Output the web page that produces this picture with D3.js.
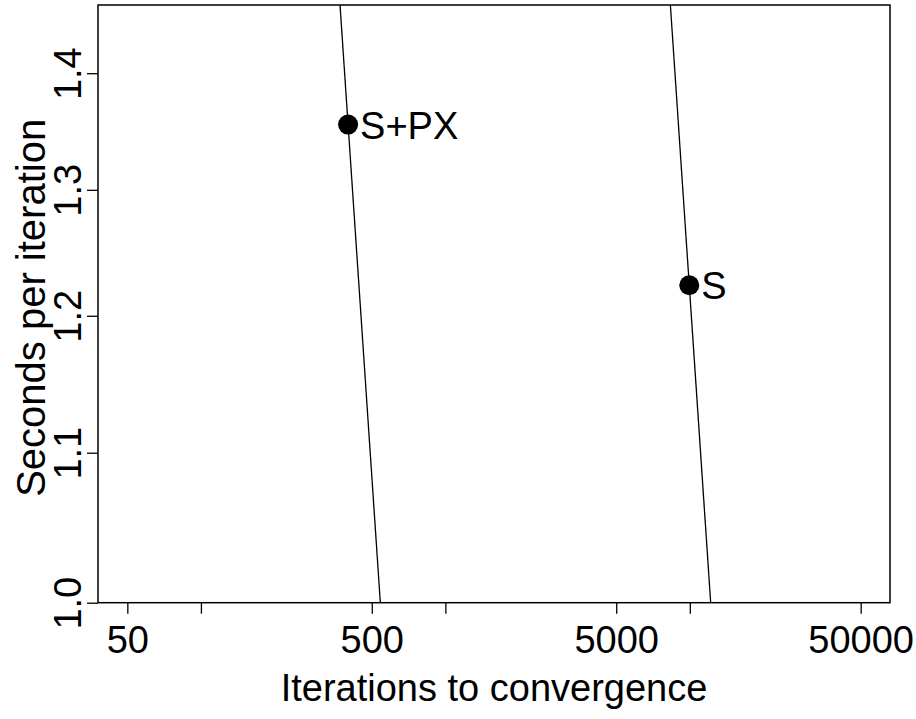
<!DOCTYPE html>
<html><head><meta charset="utf-8">
<script src="https://cdn.jsdelivr.net/npm/d3@7"></script>
<style>body{margin:0;background:#fff}svg{display:block}text{font-family:"Liberation Sans",Arial,sans-serif;fill:#000}</style>
</head><body>
<script>
const labels = ["S+PX", "S"];
const iterations = [400, 9950];
const secondsPerIter = [1.355, 1.2235];
const xTicks = [50, 100, 500, 1000, 5000, 10000, 50000];
const xTickLabels = ["50", "", "500", "", "5000", "", "50000"];
const yTicks = [1.0, 1.1, 1.2, 1.3, 1.4];
const yTickLabels = ["1.0", "1.1", "1.2", "1.3", "1.4"];
const xLim = [50, 50000];
const yLim = [1.0, 1.462];

const W = 916, H = 719;
const m = {left: 98, right: 890, top: 5, bottom: 602.7};
const FS = 38;
const svg = d3.select("body").append("svg").attr("width", W).attr("height", H);

const pad = Math.pow(xLim[1] / xLim[0], 0.04);
const x = d3.scaleLog().domain([xLim[0] / pad, xLim[1] * pad]).range([m.left, m.right]);
const y = d3.scaleLog().domain(yLim).range([m.bottom, m.top]);

// iso-cost lines through each point (iterations * seconds = const)
const line = d3.line().x(d => x(d[0])).y(d => y(d[1]));
iterations.forEach((it, i) => {
  const c = it * secondsPerIter[i];
  const pts = yLim.map(v => [c / v, v]);
  svg.append("path").attr("d", line(pts)).attr("fill", "none").attr("stroke", "#000").attr("stroke-width", 1.3);
});

// box
svg.append("rect").attr("x", m.left).attr("y", m.top).attr("width", m.right - m.left).attr("height", m.bottom - m.top)
  .attr("fill", "none").attr("stroke", "#000").attr("stroke-width", 1.5);

// x axis
const xa = svg.append("g").attr("transform", `translate(0,${m.bottom})`)
  .call(d3.axisBottom(x).tickValues(xTicks).tickFormat((d, i) => xTickLabels[i]).tickSize(11).tickPadding(12));
xa.select(".domain").remove();
xa.selectAll("line").attr("stroke", "#000").attr("stroke-width", 1.3);
xa.selectAll("text").attr("font-size", FS).attr("font-family", "Liberation Sans, Arial, sans-serif").attr("fill", "#000");

// y axis
const ya = svg.append("g").attr("transform", `translate(${m.left},0)`)
  .call(d3.axisLeft(y).tickValues(yTicks).tickFormat((d, i) => yTickLabels[i]).tickSize(11).tickPadding(0));
ya.select(".domain").remove();
ya.selectAll("line").attr("stroke", "#000").attr("stroke-width", 1.3);
ya.selectAll("text").attr("font-size", FS).attr("font-family", "Liberation Sans, Arial, sans-serif").attr("fill", "#000")
  .attr("x", null).attr("dy", null).attr("text-anchor", "middle")
  .attr("transform", "translate(-17,0) rotate(-90)");

// points
svg.selectAll("circle.pt").data(iterations).join("circle").attr("class", "pt")
  .attr("cx", d => x(d)).attr("cy", (d, i) => y(secondsPerIter[i])).attr("r", 10).attr("fill", "#000");
svg.selectAll("text.lab").data(labels).join("text").attr("class", "lab")
  .attr("x", (d, i) => x(iterations[i]) + 12).attr("y", (d, i) => y(secondsPerIter[i]) + 14)
  .attr("font-size", FS).text(d => d);

// titles
svg.append("text").attr("x", (m.left + m.right) / 2).attr("y", 701).attr("text-anchor", "middle")
  .attr("font-size", FS).text("Iterations to convergence");
svg.append("text").attr("transform", `translate(45,${(m.top + m.bottom) / 2 + 4}) rotate(-90)`).attr("text-anchor", "middle")
  .attr("font-size", 40).text("Seconds per iteration");
</script>
</body></html>
